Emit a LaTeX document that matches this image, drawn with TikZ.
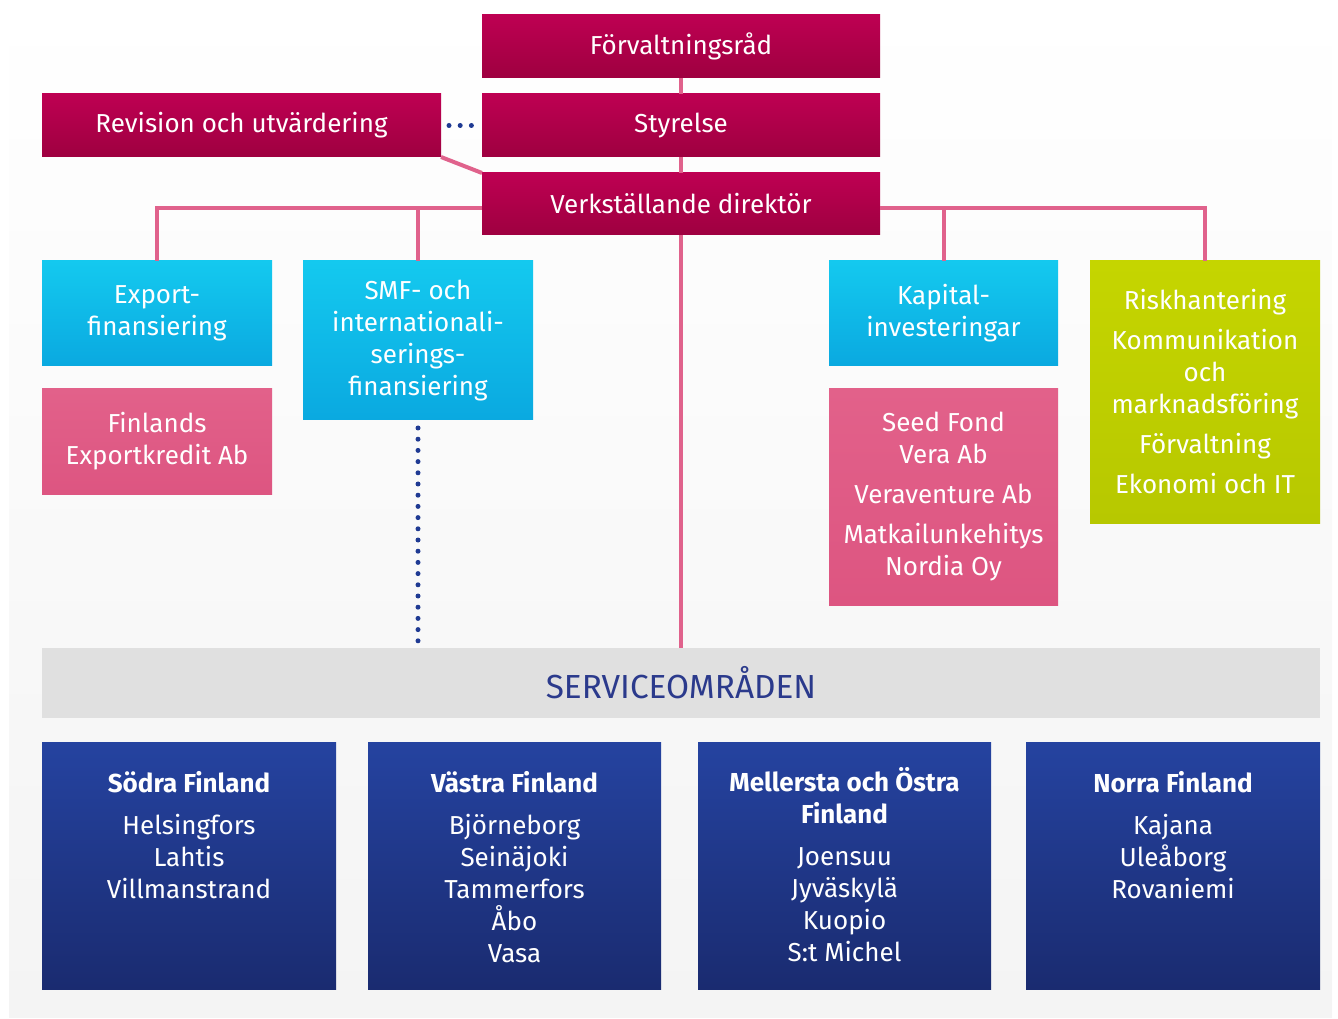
\documentclass[tikz,border=0pt]{standalone}
\usepackage{fontspec}
\setmainfont{Fira Sans}
\definecolor{crimT}{HTML}{BE0052}
\definecolor{crimB}{HTML}{9E0040}
\definecolor{lineP}{HTML}{E0628C}
\definecolor{cyanT}{HTML}{14C9EF}
\definecolor{cyanB}{HTML}{0AA9E0}
\definecolor{pinkT}{HTML}{E2618A}
\definecolor{pinkB}{HTML}{DD5581}
\definecolor{grnT}{HTML}{C5D500}
\definecolor{grnB}{HTML}{B7C800}
\definecolor{svcG}{HTML}{E0E0E0}
\definecolor{navyT}{HTML}{2B3A8C}
\definecolor{regT}{HTML}{2543A0}
\definecolor{regB}{HTML}{1A2B70}
\definecolor{dotB}{HTML}{1F3A93}
\definecolor{bgB}{HTML}{F4F4F4}
\begin{document}
\begin{tikzpicture}[x=0.75pt,y=-0.75pt,
  rect/.style n args={4}{minimum width={(#3-#1)*0.75pt}, minimum height={(#4-#2)*0.75pt},
    at={({(#1+#3)/2},{(#2+#4)/2})}},
  box/.style={inner sep=0pt, outer sep=0pt, text=white, align=center,
    font=\fontsize{19.5}{24}\selectfont},
  crim/.style={box, top color=crimT, bottom color=crimB},
  cyanbox/.style={box, top color=cyanT, bottom color=cyanB},
  pinkbox/.style={box, top color=pinkT, bottom color=pinkB},
  grnbox/.style={box, top color=grnT, bottom color=grnB},
  regbox/.style={inner sep=0pt, outer sep=0pt, top color=regT, bottom color=regB},
  regtext/.style={inner sep=0pt, text=white, align=center, anchor=north,
    font=\fontsize{19.5}{24}\selectfont},
  svcbox/.style={inner sep=0pt, outer sep=0pt, fill=svcG, text=navyT,
    font=\fontsize{25}{30}\selectfont},
  conn/.style={draw=lineP, line width=3pt},
  dots/.style={draw=dotB, line width=3.75pt, line cap=round, dash pattern=on 0pt off 8.4pt}
]
\useasboundingbox (0,0) rectangle (1338,1019);
\fill[top color=white, bottom color=bgB] (9,0) rectangle (1332,1017);

% top management
\node[crim, rect={482}{15}{880}{78}] (fr) {Förvaltningsråd};
\node[crim, rect={482}{94}{880}{157}] (sty) {Styrelse};
\node[crim, rect={42}{94}{441}{157}] (rev) {Revision och utvärdering};
\node[crim, rect={482}{173}{880}{235}] (vd) {Verkställande direktör};

% second row
\node[cyanbox, rect={42}{261}{272}{366}] (exp) {Export-\\finansiering};
\node[cyanbox, rect={303}{261}{533}{420}] (smf) {SMF- och\\internationali-\\serings-\\finansiering};
\node[cyanbox, rect={829}{261}{1058}{366}] (kap) {Kapital-\\investeringar};
\node[grnbox, rect={1090}{261}{1320}{523}] (risk) {Riskhantering\\[6pt]Kommunikation\\och\\marknadsföring\\[6pt]Förvaltning\\[6pt]Ekonomi och IT};
\node[pinkbox, rect={42}{389}{272}{494}] (fek) {Finlands\\Exportkredit Ab};
\node[pinkbox, rect={829}{389}{1058}{605}] (seed) {Seed Fond\\Vera Ab\\[6pt]Veraventure Ab\\[6pt]Matkailunkehitys\\Nordia Oy};

% service areas
\node[svcbox, rect={42}{648}{1320}{718}] (svc) {SERVICEOMRÅDEN};
\node[regbox, rect={42}{742}{336}{989}] (r1) {};
\node[regbox, rect={368}{742}{661}{989}] (r2) {};
\node[regbox, rect={698}{742}{991}{989}] (r3) {};
\node[regbox, rect={1026}{742}{1320}{989}] (r4) {};
\node[regtext] (t1) at (r1.north |- 0,770) {\strut\textbf{Södra Finland}\\[7.5pt]Helsingfors\\Lahtis\\Villmanstrand};
\node[regtext] (t2) at (r2.north |- 0,770) {\strut\textbf{Västra Finland}\\[7.5pt]Björneborg\\Seinäjoki\\Tammerfors\\Åbo\\Vasa};
\node[regtext] (t3) at (r3.north |- 0,767) {\strut\textbf{Mellersta och Östra}\\\textbf{Finland}\\[7.5pt]Joensuu\\Jyväskylä\\Kuopio\\S:t Michel};
\node[regtext] (t4) at (r4.north |- 0,770) {\strut\textbf{Norra Finland}\\[7.5pt]Kajana\\Uleåborg\\Rovaniemi};

% connectors
\coordinate (hl) at (0,208);
\draw[conn] (fr.south) -- (sty.north);
\draw[conn] (sty.south) -- (vd.north);
\draw[conn] (vd.south) -- (svc.north);
\draw[conn] (rev.south east) -- (vd.north west);
\draw[conn] (vd.west |- hl) -| (exp.north);
\draw[conn] (smf.north) -- (smf.north |- hl);
\draw[conn] (vd.east |- hl) -| (risk.north);
\draw[conn] (kap.north) -- (kap.north |- hl);
\draw[dots, shorten <=6pt, shorten >=5pt] (rev.east) -- (sty.west);
\draw[dots, shorten <=6pt, shorten >=1pt] (smf.south) -- (smf.south |- svc.north);
\end{tikzpicture}
\end{document}
